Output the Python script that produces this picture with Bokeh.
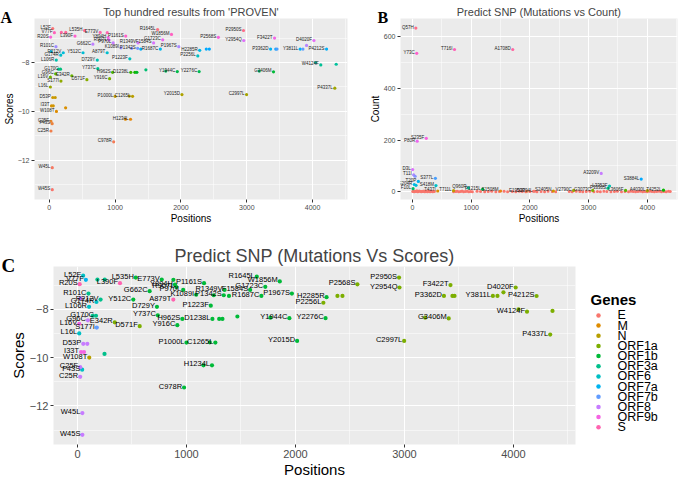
import math
from bokeh.plotting import figure
from bokeh.layouts import column, row
from bokeh.models import ColumnDataSource, FixedTicker, Range1d, Title
from bokeh.core.properties import value
from bokeh.embed import file_html
from bokeh.resources import INLINE

FONT = "Liberation Sans"

# ---------------- data: top hundred results (panels A and C) ----------------
POSITIONS = [52, 77, 20, 535, 390, 773, 1161, 894, 907, 970, 1089, 1349, 1584, 1342, 662, 879, 512, 101,
             212, 174, 106, 729, 1223, 170, 96, 16, 342, 177, 16, 571, 737, 962, 1238, 916, 1000, 1265,
             2015, 2997, 53, 33, 108, 25, 43, 25, 1234, 978, 45, 45, 1645, 1856, 1723, 1687, 1967, 2285,
             2256, 2568, 2950, 2954, 3422, 3362, 1944, 2276, 3406, 4020, 3811, 4212, 4124, 4337,
             28, 183, 250, 1250, 1390, 1300, 1214, 90, 60, 248, 1156, 2385, 2431, 3440, 3459, 1770, 1467,
             1330, 3190, 3853, 3908, 4046, 4358, 880, 140]
SCORES = [-6.61, -6.78, -6.96, -6.69, -6.92, -6.77, -6.92, -6.98, -7.08, -7.2, -7.4, -7.2, -7.2, -7.42,
          -7.25, -7.6, -7.6, -7.35, -7.6, -7.7, -7.9, -7.9, -7.85, -8.27, -8.46, -8.6, -8.54, -8.76, -9.0,
          -8.7, -8.25, -8.4, -8.4, -8.66, -9.38, -9.38, -9.31, -9.31, -9.43, -9.77, -10.0, -10.4, -10.5,
          -10.8, -10.32, -11.24, -12.3, -13.2, -6.65, -6.85, -7.07, -7.45, -7.35, -7.5, -7.73, -6.97,
          -6.69, -7.1, -7.0, -7.45, -8.37, -8.37, -8.38, -7.1, -7.45, -7.45, -8.1, -9.05,
          -7.55, -6.77, -6.77, -7.42, -7.45, -8.4, -9.37, -9.43, -9.77, -9.85, -10.32, -7.45, -7.45,
          -7.45, -7.45, -8.35, -8.3, -8.4, -8.35, -7.45, -7.3, -8.0, -8.07, -6.78, -8.27]
MUTATIONS = ["L52F", "V77F", "R20S", "L535H", "L390F", "E773V", "P1161S", "Y894H", "R907L", "P970L",
             "K1089I", "R1349V", "F1584S", "P1342S", "G662C", "A879T", "Y512C", "R101C", "R212V", "G174R",
             "L106R", "D729Y", "P1223F", "G170C", "G96C", "L16V", "E342R", "S177I", "L16L", "D571F",
             "Y737C", "H962S", "D1238L", "Y916C", "P1000L", "C1265L", "Y2015D", "C2997L", "D53P", "I33T",
             "W108T", "C25F", "F43S", "C25R", "H1234L", "C978R", "W45L", "W45S", "R1645L", "W1856M",
             "G1723C", "R1687C", "P1967S", "H2285R", "P2256L", "P2568S", "P2950S", "Y2954Q", "F3422T",
             "P3362D", "Y1944C", "Y2276C", "G3406M", "D4020F", "Y3811L", "P4212S", "W4124F", "P4337L",
             "", "", "", "", "", "", "", "", "", "", "", "", "", "", "", "", "", "", "", "", "", "", "", "", ""]
GENE_OF = ["ORF6", "ORF7a", "S", "ORF1b", "S", "ORF1b", "ORF1b", "ORF1b", "ORF1b", "ORF1b", "ORF1b", "ORF1b",
           "ORF1b", "ORF1b", "ORF1b", "S", "ORF1b", "ORF3a", "ORF3a", "ORF6", "ORF6", "ORF1b", "ORF1b",
           "ORF3a", "ORF8", "ORF9b", "ORF1a", "ORF7b", "ORF6", "ORF1a", "ORF1b", "ORF1b", "ORF1b", "ORF1b",
           "ORF1b", "ORF1b", "ORF1b", "ORF1a", "ORF8", "ORF9b", "N", "ORF8", "ORF6", "ORF8", "ORF1b",
           "ORF1b", "ORF8", "ORF8", "ORF1b", "ORF1b", "ORF1b", "ORF1b", "ORF1b", "ORF1b", "ORF1a", "ORF1a",
           "ORF1a", "ORF1a", "ORF1a", "ORF1a", "ORF1b", "ORF1b", "ORF1a", "ORF1a", "ORF1a", "ORF1a", "ORF1a",
           "ORF1a",
           "ORF8", "ORF3a", "ORF3a", "ORF1b", "ORF1b", "ORF1b", "ORF1b", "ORF8", "ORF9b", "ORF3a", "ORF1b",
           "ORF1a", "ORF1a", "ORF1a", "ORF1a", "ORF1b", "ORF1b", "ORF1b", "ORF1a", "ORF1a", "ORF1a", "ORF1a",
           "ORF1a", "ORF1b", "ORF3a"]

LEGEND_TITLE = "Genes"
GENES = ["E", "M", "N", "ORF1a", "ORF1b", "ORF3a", "ORF6", "ORF7a", "ORF7b", "ORF8", "ORF9b", "S"]
GENE_COLORS = ["#F8766D", "#DE8C00", "#B79F00", "#7CAE00", "#00BA38", "#00C08B", "#00BFC4", "#00B4F0",
               "#619CFF", "#C77CFF", "#F564E3", "#FF64B0"]

# ---------------- data: mutations vs count (panel B) ----------------
B_POS = [57, 73, 716, 1708, 235, 80, 3, 20, 45, 390, 100, 30, 60, 400, 955, 1195, 1500, 700, 430,
         2080, 2400, 2745, 3070, 3630, 4000, 4275, 1950, 10, 3330, 3215, 3896, 3356]
B_COUNT = [634, 536, 551, 551, 207, 196, 86, 65, 60, 52, 40, 28, 25, 24, 15, 10, 3, 4, 3,
           2, 3, 5, 5, 5, 4, 6, 2, 12, 14, 71, 49, 22]
B_LABEL = ["Q57H", "Y73C", "T716I", "A1708D", "S235F", "P80R", "D3L", "T11I", "", "S377L", "T20P",
           "G204R", "", "S418M", "Q960R", "P1215L", "S1508M", "T711L", "T437I", "D2094L", "S2405N",
           "V2790C", "G3073C", "L3606F", "A4030L", "T4252L", "E1950P", "F10L", "P3330S", "A3209V",
           "S3884L", "L3352F"]
B_LOW_POS = [5, 18, 30, 44, 60, 75, 90, 105, 120, 138, 150, 165, 180, 196, 210, 228, 240, 255, 270, 285,
             300, 318, 330, 345, 360, 372, 700, 735, 760, 790, 820, 845, 870, 900, 930, 960, 990, 1020,
             1100, 1160, 1230, 1290, 1350, 1420, 1480, 1560, 1620, 1700, 1760, 1820, 1870, 1930, 2000,
             2060, 2120, 2190, 2250, 2310, 2380, 2440, 2670, 2720, 2790, 2850, 2900, 2960, 3020, 3090,
             3150, 3200, 3260, 3310, 3380, 3440, 3490, 3560, 3620, 3680, 3720, 3760, 3800, 3840, 3880,
             3920, 3960, 4000, 4040, 4080, 4120, 4160, 4200, 4240, 4280, 4320, 4360, 4390]
B_LOW_COUNT = [1, 3, 0, 2, 1, 4, 0, 2, 3, 1, 0, 2, 1, 3, 0, 1, 2, 0, 3, 1, 0, 2, 1, 0, 2, 1, 0, 1, 2, 0,
               1, 3, 0, 1, 2, 0, 1, 0, 2, 1, 0, 1, 2, 0, 1, 2, 0, 1, 0, 2, 1, 0, 1, 2, 0, 1, 0, 2, 1, 0,
               1, 0, 2, 1, 0, 1, 2, 0, 1, 0, 2, 1, 0, 1, 2, 0, 1, 0, 2, 1, 0, 1, 2, 0, 1, 0, 2, 1, 0, 1,
               2, 0, 1, 0, 2, 1]

X_TICKS = [0, 1000, 2000, 3000, 4000]
X_MINOR = [-500, 500, 1500, 2500, 3500, 4500]
SCORE_TICKS = [-12, -10, -8]
SCORE_MINOR = [-13, -11, -9, -7]
COUNT_TICKS = [0, 200, 400, 600]
COUNT_MINOR = [100, 300, 500]


def hcl_hex(h, c=100.0, l=65.0):
    hr = math.radians(h)
    u, v = c * math.cos(hr), c * math.sin(hr)
    xn, yn, zn = 95.047, 100.0, 108.883
    un = 4 * xn / (xn + 15 * yn + 3 * zn)
    vn = 9 * yn / (xn + 15 * yn + 3 * zn)
    Y = yn * ((l + 16) / 116) ** 3
    up = u / (13 * l) + un
    vp = v / (13 * l) + vn
    X = Y * 9 * up / (4 * vp)
    Z = Y * (12 - 3 * up - 20 * vp) / (4 * vp)
    X, Y, Z = X / 100, Y / 100, Z / 100
    rgb = [3.2406 * X - 1.5372 * Y - 0.4986 * Z,
           -0.9689 * X + 1.8758 * Y + 0.0415 * Z,
           0.0557 * X - 0.2040 * Y + 1.0570 * Z]
    out = []
    for ch in rgb:
        ch = 12.92 * ch if ch <= 0.0031308 else 1.055 * max(ch, 0) ** (1 / 2.4) - 0.055
        out.append(max(0, min(255, round(ch * 255))))
    return "#%02x%02x%02x" % tuple(out)


def rank_colors(vals):
    order = sorted(range(len(vals)), key=lambda i: vals[i])
    n = len(vals)
    cols = [None] * n
    for r, i in enumerate(order):
        cols[i] = hcl_hex(15 + 360.0 * r / n)
    return cols


def style(p, tick_size, label_size):
    p.background_fill_color = "#EBEBEB"
    p.border_fill_color = "white"
    p.outline_line_color = None
    for ax in p.axis:
        ax.axis_line_color = None
        ax.major_tick_line_color = "#333333"
        ax.major_tick_out = 3
        ax.major_tick_in = 0
        ax.minor_tick_line_color = None
        ax.major_label_text_font = FONT
        ax.major_label_text_font_size = tick_size
        ax.major_label_text_color = "#4D4D4D"
        ax.axis_label_text_font = FONT
        ax.axis_label_text_font_size = label_size
        ax.axis_label_text_font_style = "normal"
        ax.axis_label_text_color = "black"
        ax.major_label_standoff = 1
        ax.axis_label_standoff = 0
    p.grid.grid_line_color = "white"
    p.grid.grid_line_width = 1.1
    p.grid.minor_grid_line_color = "white"
    p.grid.minor_grid_line_width = 0.5
    p.title.text_font = FONT
    p.title.text_font_style = "normal"
    p.title.align = "center"
    p.title.standoff = 2


def panel_letter(p, text, size, offset, standoff):
    p.add_layout(Title(text=text, align="left", vertical_align="top", offset=offset, standoff=standoff,
                       text_font="Liberation Serif", text_font_style="bold", text_font_size=size,
                       text_color="black"), "above")


lab_idx = [i for i, m in enumerate(MUTATIONS) if m]

# ---------------- Panel A ----------------
hA = 226
pA = figure(width=348, height=hA, x_range=Range1d(-225, 4530), y_range=Range1d(-13.6, -6.2),
            output_backend="svg", toolbar_location=None, title="Top hundred results from 'PROVEN'",
            min_border_left=30, min_border_right=1, min_border_top=18, min_border_bottom=26)
style(pA, "7px", "10px")
pA.title.text_font_size = "11px"
pA.xaxis.axis_label = "Positions"
pA.yaxis.axis_label = "Scores"
pA.xaxis.ticker = FixedTicker(ticks=X_TICKS, minor_ticks=X_MINOR)
pA.yaxis.ticker = FixedTicker(ticks=SCORE_TICKS, minor_ticks=SCORE_MINOR)
srcA = ColumnDataSource(dict(x=POSITIONS, y=SCORES, c=rank_colors(SCORES)))
pA.scatter("x", "y", source=srcA, size=3.2, color="c", line_color=None)
srcAt = ColumnDataSource(dict(x=[POSITIONS[i] for i in lab_idx], y=[SCORES[i] for i in lab_idx],
                              t=[MUTATIONS[i] for i in lab_idx]))
pA.text("x", "y", text="t", source=srcAt, text_font_size="4.5px", text_align="right",
        text_baseline="middle", x_offset=-2, y_offset=-1, text_color="#222222", text_font=value(FONT))
panel_letter(pA, "A", "16px", -34, -20)

# ---------------- Panel B ----------------
pB = figure(width=335, height=hA, x_range=Range1d(-204, 4514), y_range=Range1d(-30, 671),
            output_backend="svg", toolbar_location=None, title="Predict SNP (Mutations vs Count)",
            min_border_left=52, min_border_right=6, min_border_top=18, min_border_bottom=26)
style(pB, "7px", "10px")
pB.title.text_font_size = "11px"
pB.xaxis.axis_label = "Positions"
pB.yaxis.axis_label = "Count"
pB.xaxis.ticker = FixedTicker(ticks=X_TICKS, minor_ticks=X_MINOR)
pB.yaxis.ticker = FixedTicker(ticks=COUNT_TICKS, minor_ticks=COUNT_MINOR)
pB.scatter(B_LOW_POS, B_LOW_COUNT, size=3, color="#F8766D", line_color=None)
srcB = ColumnDataSource(dict(x=B_POS, y=B_COUNT, c=rank_colors(B_COUNT), t=B_LABEL))
pB.scatter("x", "y", source=srcB, size=3.2, color="c", line_color=None)
pB.text("x", "y", text="t", source=srcB, text_font_size="4.5px", text_align="right",
        text_baseline="middle", x_offset=-2, y_offset=-1, text_color="#222222", text_font=value(FONT))
panel_letter(pB, "B", "16px", -23, -20)

# ---------------- Panel C ----------------
hC = 254
C_TOP, C_BOTTOM = 40, 32
pC = figure(width=577, height=hC, x_range=Range1d(-220, 4569), y_range=Range1d(-13.6, -6.23),
            output_backend="svg", toolbar_location=None, title="Predict SNP (Mutations Vs Scores)",
            min_border_left=53, min_border_right=2, min_border_top=C_TOP, min_border_bottom=C_BOTTOM)
style(pC, "11px", "15px")
pC.title.text_font_size = "18px"
pC.xaxis.axis_label = "Positions"
pC.yaxis.axis_label = "Scores"
pC.xaxis.ticker = FixedTicker(ticks=X_TICKS, minor_ticks=X_MINOR)
pC.yaxis.ticker = FixedTicker(ticks=SCORE_TICKS, minor_ticks=SCORE_MINOR)
for g, col in zip(GENES, GENE_COLORS):
    idx = [i for i, gg in enumerate(GENE_OF) if gg == g]
    pC.scatter([POSITIONS[i] for i in idx], [SCORES[i] for i in idx], size=4.2, color=col,
               line_color=None)
srcCt = ColumnDataSource(dict(x=[POSITIONS[i] for i in lab_idx], y=[SCORES[i] for i in lab_idx],
                              t=[MUTATIONS[i] for i in lab_idx]))
pC.text("x", "y", text="t", source=srcCt, text_font_size="7.5px", text_align="right",
        text_baseline="middle", x_offset=-2, y_offset=-1.5, text_color="black", text_font=value(FONT))
panel_letter(pC, "C", "19px", -52, -23)

# ---------------- legend panel for C (drawn from the GENES list) ----------------
# its frame is aligned with the frame of panel C by the row layout
wL = 106
ROW = 10.4                       # px per legend entry
FRAME_H = hC - C_TOP - C_BOTTOM  # legend frame height
FIRST = 50                       # px from frame top to the first entry
pL = figure(width=wL, height=hC, output_backend="svg", toolbar_location=None,
            x_axis_type=None, y_axis_type=None, min_border=0,
            x_range=Range1d(0, wL),
            y_range=Range1d((FRAME_H - FIRST) / ROW, -FIRST / ROW))
pL.outline_line_color = None
pL.background_fill_color = "white"
pL.border_fill_color = "white"
pL.grid.grid_line_color = None
rows_idx = list(range(len(GENES)))
pL.scatter([21] * len(GENES), rows_idx, size=4.5, color=GENE_COLORS, line_color=None)
pL.text([40] * len(GENES), rows_idx, text=GENES, text_font=value(FONT), text_font_size="12.5px",
        text_baseline="middle", text_align="left", text_color="black")
pL.text([13], [-1.6], text=[LEGEND_TITLE], text_font=value(FONT), text_font_size="15px",
        text_font_style="bold", text_baseline="middle", text_align="left", text_color="black")

layout = column(row(pA, pB), row(pC, pL))
open("out.html", "w").write(file_html(layout, INLINE))
